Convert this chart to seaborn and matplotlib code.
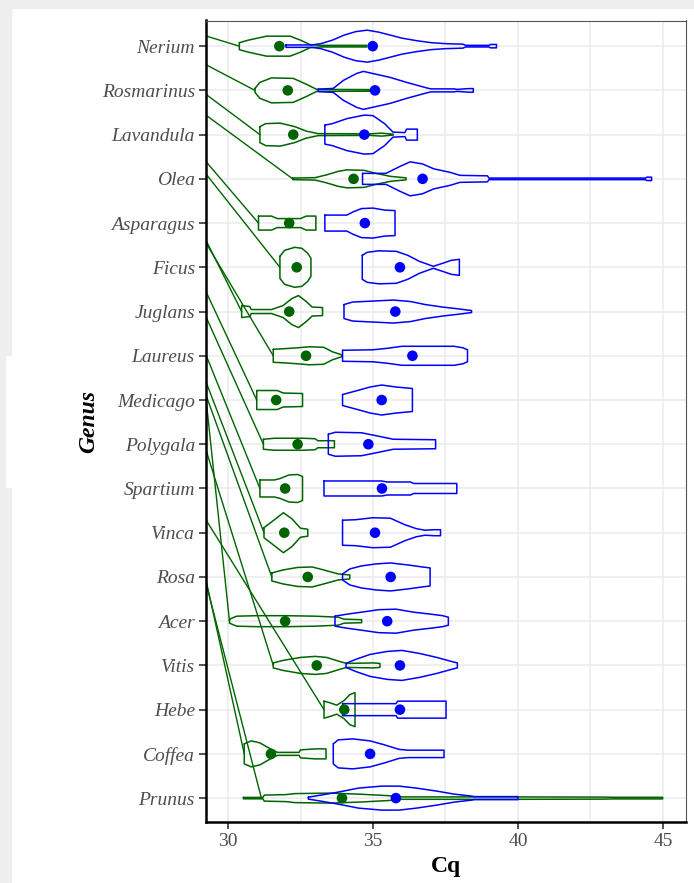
import numpy as np
import pandas as pd
import seaborn as sns
import matplotlib.pyplot as plt
from matplotlib.patches import Rectangle

# genus order, top to bottom
genus = ["Nerium", "Rosmarinus", "Lavandula", "Olea", "Asparagus", "Ficus",
         "Juglans", "Laureus", "Medicago", "Polygala", "Spartium", "Vinca",
         "Rosa", "Acer", "Vitis", "Hebe", "Coffea", "Prunus"]

# mean Cq per genus (dots)
green_mean = [31.77, 32.06, 32.25, 34.33, 32.11, 32.37, 32.11, 32.69, 31.66,
              32.40, 31.97, 31.94, 32.75, 31.97, 33.06, 34.01, 31.48, 33.93]
blue_mean = [34.99, 35.07, 34.70, 36.71, 34.72, 35.93, 35.77, 36.36, 35.30,
             34.84, 35.31, 35.07, 35.61, 35.49, 35.93, 35.93, 34.90, 35.79]

# violin outlines: Cq knots and half width (density) at each knot
green_cq = [
    [30.39, 30.7, 31.33, 32.14, 32.5, 32.83, 33.2, 34.78],
    [30.93, 31.1, 31.5, 32.25, 32.71, 33.06, 34.9],
    [31.10, 31.3, 31.8, 32.3, 32.7, 33.11, 34.9, 35.3, 35.7],
    [32.23, 33.0, 33.4, 33.8, 34.1, 34.7, 35.1, 35.6, 36.14],
    [31.05, 31.5, 31.7, 32.5, 32.7, 33.03],
    [31.79, 31.95, 32.3, 32.55, 32.75, 32.86],
    [30.47, 30.75, 30.8, 31.5, 31.9, 32.2, 32.43, 32.7, 32.9, 33.26],
    [31.56, 31.9, 32.4, 32.8, 33.3, 33.6, 33.92],
    [30.99, 31.7, 31.9, 32.57],
    [31.22, 31.6, 32.6, 33.0, 33.1, 33.67],
    [31.10, 31.6, 31.8, 32.1, 32.4, 32.57],
    [31.24, 31.6, 31.91, 32.2, 32.5, 32.75],
    [31.51, 31.9, 32.4, 32.9, 33.3, 33.8, 34.0, 34.2],
    [30.05, 30.3, 31.0, 32.0, 33.0, 33.8, 34.0, 34.61],
    [31.56, 31.9, 32.5, 33.0, 33.4, 33.9, 34.1, 35.0, 35.24],
    [33.31, 33.5, 33.75, 34.0, 34.2, 34.38],
    [30.56, 30.8, 31.1, 31.4, 31.7, 32.45, 32.5, 33.0, 33.38],
    [30.53, 31.2, 31.25, 32.0, 32.3, 33.5, 34.5, 35.5, 36.0, 40.0, 43.0, 43.3, 44.99],
]
green_w = [
    [3.5, 6, 10, 10, 6, 1.5, 0.8, 0.8],
    [2, 8, 12.5, 12, 6, 1, 0.8],
    [8, 11, 11.5, 8, 3.5, 1, 0.8, 1.5, 0.4],
    [0.8, 1.2, 4, 7.5, 9, 8.5, 5.5, 2.5, 1],
    [7, 7, 4.5, 4.5, 7, 7],
    [11, 17, 20, 19, 14, 9],
    [6, 5, 2, 2, 6, 13, 16, 10, 4.5, 4],
    [6.5, 7, 8, 9, 8.5, 4, 1],
    [9.5, 9.5, 7, 6.5],
    [5, 6, 6, 5.5, 3.5, 3.5],
    [8.5, 8.5, 10, 13.5, 14, 12],
    [5, 13, 20, 14, 4.5, 3.5],
    [4, 7, 9.5, 10, 7, 3, 2.5, 2],
    [2, 5, 5.5, 5.5, 5, 4, 2, 1.5],
    [2.5, 5, 8, 9, 8, 3.5, 2, 2.5, 2],
    [8.5, 7, 4.5, 9, 15, 17],
    [10, 13, 11, 6, 1.5, 1.5, 4, 5, 5],
    [0.7, 0.7, 3, 3.5, 4.5, 5, 4, 2.5, 1.2, 1.2, 1.0, 0.8, 0.8],
]
blue_cq = [
    [32.0, 32.9, 33.2, 33.6, 34.0, 34.4, 34.8, 35.2, 35.6, 36.0, 36.5, 37.0, 37.5, 38.1, 38.2, 39.0, 39.05, 39.26],
    [33.11, 33.63, 33.98, 34.44, 34.67, 35.13, 35.59, 36.16, 36.85, 37.0, 37.8, 37.9, 38.3, 38.46],
    [33.34, 33.6, 34.1, 34.7, 35.0, 35.4, 35.69, 36.1, 36.16, 36.53],
    [34.64, 35.45, 35.9, 36.28, 36.7, 37.1, 37.66, 38.0, 38.95, 39.0, 44.4, 44.45, 44.61],
    [33.34, 34.1, 34.3, 34.6, 35.0, 35.4, 35.76],
    [34.63, 34.8, 35.2, 35.8, 36.2, 36.6, 37.08, 37.4, 37.7, 37.98],
    [34.0, 34.3, 35.0, 35.7, 36.3, 36.8, 37.4, 38.0, 38.4],
    [33.95, 35.0, 35.5, 36.0, 37.0, 37.8, 38.1, 38.26],
    [33.95, 34.4, 34.9, 35.3, 35.8, 36.36],
    [33.46, 33.7, 34.6, 35.2, 35.7, 37.16],
    [33.31, 35.3, 35.5, 36.3, 36.4, 37.89],
    [33.95, 34.4, 35.0, 35.6, 36.1, 36.5, 36.8, 37.1, 37.33],
    [33.95, 34.2, 34.6, 35.1, 35.6, 36.2, 36.7, 36.97],
    [33.69, 34.1, 34.6, 35.2, 35.8, 36.4, 37.0, 37.4, 37.6],
    [34.07, 34.4, 34.9, 35.5, 36.0, 36.6, 37.2, 37.7, 37.91],
    [33.95, 35.8, 35.85, 37.52],
    [33.63, 33.8, 34.3, 34.9, 35.4, 35.9, 36.2, 37.45],
    [32.77, 33.2, 33.8, 34.5, 35.3, 35.9, 36.5, 37.2, 37.8, 38.4, 38.5, 40.0],
]
blue_w = [
    [1.2, 1.2, 2.5, 6, 11, 14.5, 16, 14, 11, 8, 5.5, 3.5, 2.5, 2, 0.8, 0.8, 1.7, 1.7],
    [1.2, 2, 10, 17, 19, 16, 13, 8, 2.5, 1.5, 1.5, 1, 1.8, 1.8],
    [9.5, 11, 16, 19.5, 19, 11, 2.5, 2, 5.5, 5.5],
    [5.5, 5.5, 12, 17, 15, 10, 6.5, 3.5, 3, 0.8, 0.8, 1.7, 1.7],
    [8, 8, 11, 14.5, 15, 13, 12.5],
    [12, 15, 16.5, 16, 12, 6, 1, 4, 7, 8],
    [7, 9.5, 10.5, 11.5, 10, 7, 4.5, 2.5, 1],
    [5.5, 6, 7.5, 9.5, 9.5, 9.5, 8, 6],
    [5.5, 9, 13, 15, 13, 11.5],
    [10, 12, 11.5, 8, 5, 4.5],
    [7.5, 7.5, 6.5, 6.5, 5, 5],
    [12.5, 13, 15, 14.5, 8, 4, 2.5, 3, 3],
    [3, 8, 11, 13, 14, 12, 10, 9],
    [5, 7, 9, 11.5, 12, 9, 7, 5.5, 4],
    [2, 6, 11, 14, 15, 12, 8, 4, 2.5],
    [6, 6, 8.5, 8.5],
    [10, 14, 15, 13, 9, 4.5, 3.7, 3.7],
    [1, 3, 6, 10, 12, 12, 10, 7, 4, 2, 1.5, 1.5],
]

# the stray green traces coming in from the left edge
link_start = [-0.23, 0.42, 1.09, 1.56, 2.61, 2.89, 4.39, 4.45, 5.55, 6.12,
              6.98, 7.59, 7.89, 7.97, 9.13, 10.71, 12.07, 12.14]
link_end = [30.39, 30.93, 31.10, 32.23, 31.05, 31.79, 30.47, 31.56, 30.99,
            31.22, 31.10, 31.24, 31.51, 30.05, 31.56, 33.31, 30.56, 31.15]

x_left, x_right = 29.24, 45.78
w_scale = 1 / 44.24  # density units -> category units

pal = {"green": "#006400", "blue": "#0000ff"}

# build violin outlines as closed paths
rows = []
for grp, cqs, ws in [("green", green_cq, green_w), ("blue", blue_cq, blue_w)]:
    for i, (c, w) in enumerate(zip(cqs, ws)):
        c = np.asarray(c)
        w = np.asarray(w) * w_scale
        xs = np.concatenate([c, c[::-1], c[:1]])
        ys = np.concatenate([i - w, (i + w)[::-1], [i - w[0]]])
        for x, y in zip(xs, ys):
            rows.append({"Cq": x, "pos": y, "group": grp, "piece": f"{grp}{i}"})
outline = pd.DataFrame(rows)

link_rows = []
for i in range(len(genus)):
    link_rows.append({"Cq": x_left, "pos": link_start[i], "piece": i})
    link_rows.append({"Cq": link_end[i], "pos": i, "piece": i})
links = pd.DataFrame(link_rows)

means = pd.DataFrame({
    "Cq": green_mean + blue_mean,
    "pos": list(range(len(genus))) * 2,
    "group": ["green"] * len(genus) + ["blue"] * len(genus),
})

sns.set_theme(style="whitegrid")
plt.rcParams['font.family'] = ['Liberation Serif', 'DejaVu Serif']

fig, ax = plt.subplots(figsize=(6.94, 8.83), dpi=100)
fig.subplots_adjust(left=206 / 694, right=685.5 / 694, top=1 - 20.5 / 883, bottom=1 - 822 / 883)

# screenshot edges (figure coords, bottom-up, in pixels)
for (x0, y0, w, h) in [(0, 875, 694, 8), (0, 0, 11, 395), (0, 395, 5, 133), (0, 528, 11, 347)]:
    fig.patches.append(Rectangle((x0 / 694, y0 / 883), w / 694, h / 883,
                                 transform=fig.transFigure, color="#eeeeee", zorder=0))

sns.lineplot(data=links, x="Cq", y="pos", units="piece", estimator=None, sort=False,
             color=pal["green"], lw=1.0, ax=ax, legend=False)
sns.lineplot(data=outline, x="Cq", y="pos", hue="group", units="piece", estimator=None,
             sort=False, palette=pal, lw=1.1, ax=ax, legend=False)
sns.scatterplot(data=means, x="Cq", y="pos", hue="group", palette=pal, s=58,
                linewidth=0, ax=ax, legend=False, zorder=5)

ax.set_xlim(x_left, x_right)
ax.set_ylim(17.54, -0.58)
ax.set_yticks(range(len(genus)))
ax.set_yticklabels(genus, fontstyle="italic")
ax.set_xticks([30, 35, 40, 45])
ax.set_xticks([32.5, 37.5, 42.5], minor=True)

ax.grid(which="major", color="#ebebeb", lw=1.1)
ax.grid(which="minor", axis="x", color="#ebebeb", lw=1.1)
ax.set_axisbelow(True)

ax.tick_params(axis="both", which="major", bottom=True, left=True, length=5, width=1.2,
               color="#333333", labelcolor="#4d4d4d", labelsize=14, pad=3)
ax.tick_params(axis="x", which="minor", bottom=False)

for side in ["left", "bottom"]:
    ax.spines[side].set_color("black")
    ax.spines[side].set_linewidth(1.8)
for side in ["top", "right"]:
    ax.spines[side].set_color("#555555")
    ax.spines[side].set_linewidth(0.8)

ax.set_xlabel("Cq", fontsize=17, fontweight="bold", color="black", labelpad=4)
ax.set_ylabel("Genus", fontsize=17, fontweight="bold", fontstyle="italic", color="black", labelpad=2)

fig.savefig("out.png", dpi=100, facecolor="white")
